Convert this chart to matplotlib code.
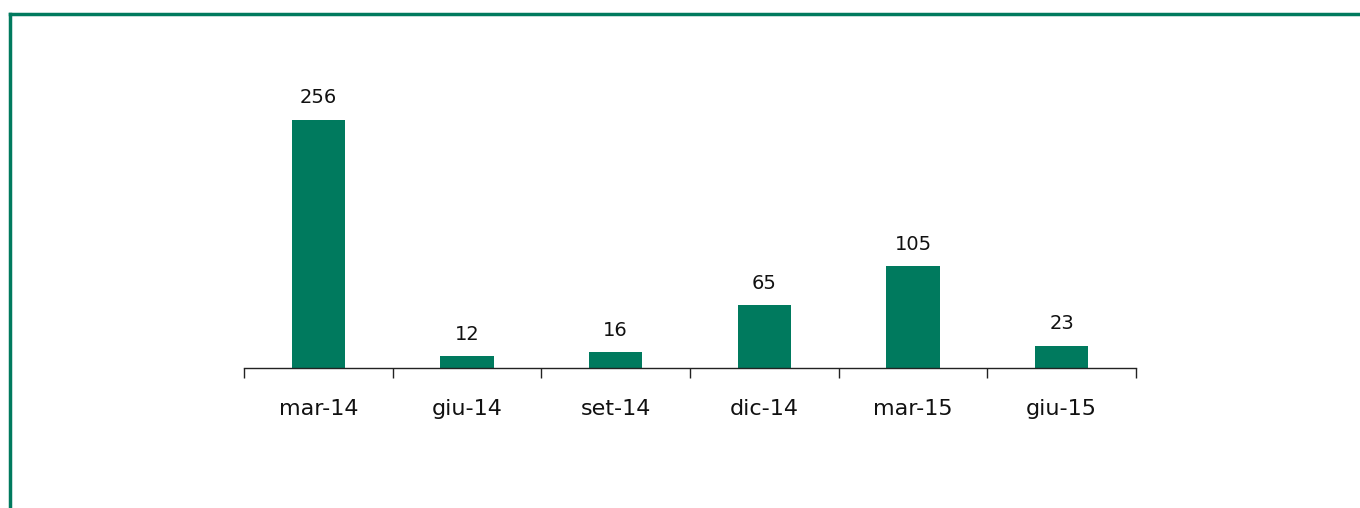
import matplotlib.pyplot as plt
from matplotlib.lines import Line2D

# dati
periodi = ["mar-14", "giu-14", "set-14", "dic-14", "mar-15", "giu-15"]
valori = [256, 12, 16, 65, 105, 23]

verde = "#007A5E"
W, H = 1360, 508

fig = plt.figure(figsize=(W / 100, H / 100), dpi=100)

# cornice verde (solo lato sinistro e superiore visibili)
fig.add_artist(Line2D([10 / W, 10 / W], [0, 1 - 14 / H], color=verde, lw=2.5,
                      transform=fig.transFigure))
fig.add_artist(Line2D([10 / W, 1], [1 - 14 / H, 1 - 14 / H], color=verde, lw=2.5,
                      transform=fig.transFigure))

# assi: base a y=368 px, 0.969 px per unità
ymax = 300
top_px = 368 - ymax * 0.969
ax = fig.add_axes([244 / W, (H - 368) / H, (1136 - 244) / W, (368 - top_px) / H])

x = list(range(len(periodi)))
bars = ax.bar(x, valori, width=0.36, color=verde)

for xi, v in zip(x, valori):
    ax.annotate(str(v), (xi, v), xytext=(0, 9), textcoords="offset points",
                ha="center", va="bottom", fontsize=14, color="#111111")

ax.set_xlim(-0.5, len(periodi) - 0.5)
ax.set_ylim(0, ymax)

for s in ["top", "right", "left"]:
    ax.spines[s].set_visible(False)
ax.spines["bottom"].set_linewidth(1.0)
ax.spines["bottom"].set_color("#222222")

ax.set_yticks([])
ax.set_xticks(x)
ax.set_xticklabels(periodi, fontsize=16, color="#111111")
ax.tick_params(axis="x", which="major", length=0, pad=22)
ax.set_xticks([i - 0.5 for i in range(len(periodi) + 1)], minor=True)
ax.tick_params(axis="x", which="minor", length=7.5, width=1.0, color="#222222")

fig.savefig("out.png", dpi=100)
